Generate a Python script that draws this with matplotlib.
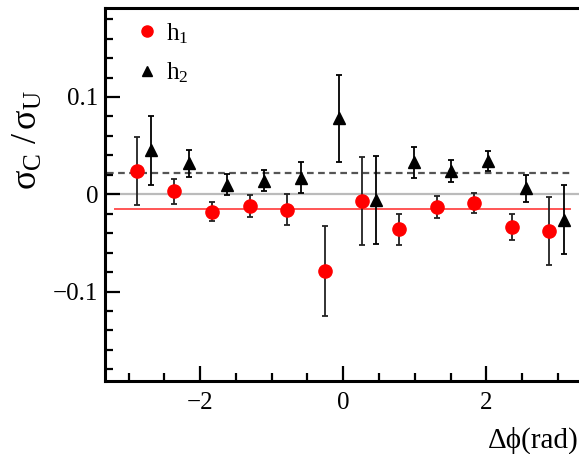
import numpy as np
import matplotlib
matplotlib.use("Agg")
import matplotlib.pyplot as plt
from matplotlib.ticker import MultipleLocator
from matplotlib.lines import Line2D

plt.rcParams['font.family'] = ['Liberation Serif', 'DejaVu Serif']
plt.rcParams['mathtext.fontset'] = 'custom'
plt.rcParams['mathtext.rm'] = 'Liberation Serif'
plt.rcParams['mathtext.it'] = 'Liberation Serif:italic'

# bin centres in delta phi (12 bins over -pi..pi)
x_h1 = [-2.88, -2.36, -1.83, -1.31, -0.785, -0.26, 0.26, 0.785, 1.31, 1.83, 2.36, 2.88]
x_h2 = [-2.68, -2.16, -1.63, -1.11, -0.585, -0.06, 0.46, 0.985, 1.51, 2.03, 2.56, 3.08]

y_h1 = [0.024, 0.003, -0.018, -0.012, -0.016, -0.079, -0.007, -0.036, -0.013, -0.009, -0.034, -0.038]
e_h1 = [0.035, 0.013, 0.010, 0.011, 0.016, 0.046, 0.045, 0.016, 0.011, 0.0105, 0.0135, 0.035]

y_h2 = [0.045, 0.032, 0.010, 0.014, 0.017, 0.078, -0.006, 0.033, 0.024, 0.034, 0.006, -0.026]
e_h2 = [0.035, 0.014, 0.0105, 0.011, 0.016, 0.045, 0.045, 0.016, 0.011, 0.0106, 0.0137, 0.035]

fit_h1 = -0.0155
fit_h2 = 0.0215

fig = plt.figure(figsize=(5.79, 4.54), dpi=100)
ax = fig.add_axes([0.1813, 0.1608, 0.823, 0.8216])

ax.axhline(0, color='#bbbbbb', lw=1.6, zorder=1)
ax.plot([-3.3, 3.2], [fit_h2, fit_h2], ls=(0, (3, 2)), color='#555555', lw=1.6, zorder=1)
ax.plot([-3.19, 3.17], [fit_h1, fit_h1], color='#ff5555', lw=1.4, zorder=1)

ax.errorbar(x_h1, y_h1, yerr=e_h1, fmt='o', color='red', ms=9.5, ecolor='#222222',
            elinewidth=1.3, capsize=2, capthick=1.3, zorder=3)
ax.errorbar(x_h2, y_h2, yerr=e_h2, fmt='^', color='black', ms=8, ecolor='black',
            elinewidth=1.3, capsize=2, capthick=1.3, zorder=3)

ax.set_xlim(-3.33, 3.33)
ax.set_ylim(-0.192, 0.1915)
ax.xaxis.set_major_locator(MultipleLocator(2))
ax.xaxis.set_minor_locator(MultipleLocator(0.5))
ax.yaxis.set_major_locator(MultipleLocator(0.1))
ax.yaxis.set_minor_locator(MultipleLocator(0.02))
ax.yaxis.set_major_formatter(plt.FuncFormatter(lambda v, p: '0' if abs(v) < 1e-9 else ('%.1f' % v).replace('-', '\u2212')))
ax.xaxis.set_major_formatter(plt.FuncFormatter(lambda v, p: ('%d' % round(v)).replace('-', '\u2212')))

ax.tick_params(which='both', direction='in', top=False, right=False, width=1.6, labelsize=18)
ax.tick_params(which='major', length=11)
ax.tick_params(which='minor', length=6)
ax.tick_params(axis='x', pad=8)
ax.tick_params(axis='y', pad=5)
for s in ax.spines.values():
    s.set_linewidth(2.2)
ax.spines['right'].set_visible(False)

handles = [Line2D([], [], ls='none', marker='o', color='red', ms=8),
           Line2D([], [], ls='none', marker='^', color='black', ms=6.5)]
ax.legend(handles, ['h$_1$', 'h$_2$'], loc='upper left', bbox_to_anchor=(0.02, 1.025),
          frameon=False, fontsize=18, handlelength=0.8, handletextpad=0.35, labelspacing=0.6)

fig.text(28 / 579, 1 - 140 / 454, r'$\mathrm{σ_{C}\ /\,σ_{U}}$', rotation=90,
         ha='center', va='center', fontsize=26)
fig.text(1.0, 1 - 440 / 454, 'Δϕ(rad)', ha='right', va='center', fontsize=21)

fig.savefig('out.png', dpi=100)
